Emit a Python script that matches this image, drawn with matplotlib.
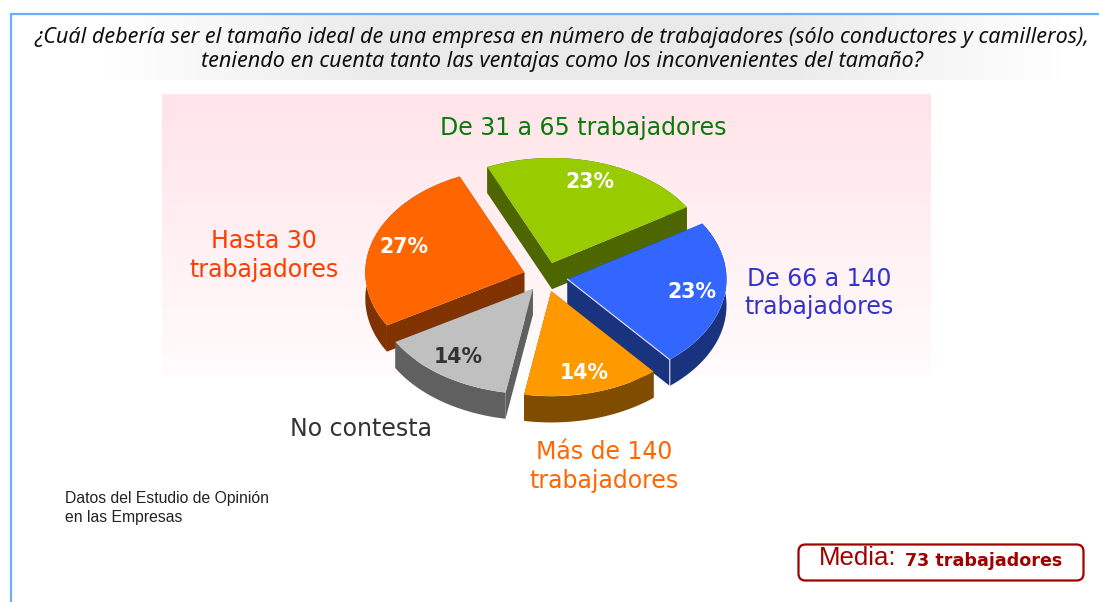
import numpy as np
import matplotlib
matplotlib.use("Agg")
import matplotlib.pyplot as plt
from matplotlib.patches import FancyBboxPatch, Polygon

W, H = 1099, 602

# slices in drawing order of the pie, clockwise from the top left cut
categories = ["De 31 a 65 trabajadores", "De 66 a 140\ntrabajadores", "Más de 140\ntrabajadores",
              "No contesta", "Hasta 30\ntrabajadores"]
values = [23, 23, 14, 14, 27]
top_colors = ["#99cc00", "#3366ff", "#ff9900", "#c0c0c0", "#ff6600"]
wall_colors = ["#4d6600", "#19337f", "#804c00", "#606060", "#803300"]
label_colors = ["#0a7a0a", "#3333cc", "#ff6600", "#333333", "#ff3c00"]
value_colors = ["white", "white", "white", "#333333", "white"]

title = ("¿Cuál debería ser el tamaño ideal de una empresa en número de trabajadores (sólo conductores y camilleros),\n"
         "teniendo en cuenta tanto las ventajas como los inconvenientes del tamaño?")
source = "Datos del Estudio de Opinión\nen las Empresas"
media_value = 73


def put(x, y, s, **kw):
    kw.setdefault("ha", "center")
    kw.setdefault("va", "center")
    return fig.text(x / W, 1 - y / H, s, zorder=5, **kw)


fig = plt.figure(figsize=(W / 100, H / 100), dpi=100, facecolor="white")

# background layer, pixel coordinates
bg = fig.add_axes([0, 0, 1, 1], zorder=0)
bg.set_xlim(0, W)
bg.set_ylim(H, 0)
bg.axis("off")

pink = np.ones((64, 1, 4))
pink[:, 0, :3] = matplotlib.colors.to_rgb("#ffe4e9")
pink[:, 0, 3] = np.linspace(1, 0.14, 64)
bg.imshow(pink, extent=(162, 931, 375, 94), aspect="auto", zorder=1)

band = np.zeros((1, 256, 4))
band[0, :, :3] = 0.92
band[0, :, 3] = np.interp(np.linspace(0, 1, 256), [0, 0.3, 0.7, 1], [0, 1, 1, 0])
bg.imshow(band, extent=(100, 1066, 80, 15), aspect="auto", zorder=1)
bg.set_xlim(0, W)
bg.set_ylim(H, 0)

bg.plot([10.5, 10.5, W], [H, 13.5, 13.5], color="#66b0ff", lw=1.6, zorder=2, solid_joinstyle="miter")
bg.add_patch(FancyBboxPatch((798.5, 544.5), 285, 36, boxstyle="round,pad=0,rounding_size=7",
                            fc="white", ec="#a00000", lw=1.6, zorder=2))

# pie layer: one unit is the ellipse radius, so the axes squash the pie
cx, cy, rx, ry, depth, explode = 545.5, 277, 159, 105, 0.25, 0.14
ax = fig.add_axes([0, 0, 1, 1], zorder=1)
ax.patch.set_alpha(0)
wedges, _ = ax.pie(values, colors=top_colors, startangle=114, counterclock=False,
                   explode=[explode] * len(values), radius=1, center=(0, 0),
                   wedgeprops=dict(linewidth=0))
ax.set_aspect("auto")
ax.set_xlim(-cx / rx, (W - cx) / rx)
ax.set_ylim((cy - H) / ry, cy / ry)
ax.axis("off")

order = [0, 4, 1, 3, 2]  # back slices first
for z, i in enumerate(order):
    wedge = wedges[i]
    ox, oy = wedge.center
    t = np.radians(np.linspace(wedge.theta1, wedge.theta2, 120))
    xs = ox + np.cos(t)
    ys = oy + np.sin(t)
    base = 2 * z + 1
    # radial walls
    for k in [0, -1]:
        ax.add_patch(Polygon([(ox, oy), (xs[k], ys[k]), (xs[k], ys[k] - depth), (ox, oy - depth)],
                             fc=wall_colors[i], ec="none", zorder=base))
    # rim
    rim = np.r_[np.c_[xs, ys], np.c_[xs[::-1], ys[::-1] - depth]]
    ax.add_patch(Polygon(rim, fc=wall_colors[i], ec="none", zorder=base))
    wedge.set_zorder(base + 1)

# thin highlight on the blue slice
blue = wedges[1]
t1 = np.radians(blue.theta1)
ex, ey = blue.center[0] + np.cos(t1), blue.center[1] + np.sin(t1)
ax.plot([blue.center[0], ex, ex], [blue.center[1], ey, ey - depth], color="#dfe6ff", lw=0.8, zorder=20)

# texts
sans = ["DejaVu Sans"]
label_xy = [(583, 127.5), (819, 293), (604, 466.5), (361, 428.5), (264, 255.5)]
value_xy = [(590, 182), (692, 292), (584, 373), (458, 357), (404, 247)]
for lab, col, val, vcol, lxy, vxy in zip(categories, label_colors, values, value_colors, label_xy, value_xy):
    put(lxy[0], lxy[1], lab, color=col, fontsize=17, family=sans, linespacing=1.23)
    put(vxy[0], vxy[1], f"{val}%", color=vcol, fontsize=14.8, family=sans, fontweight="bold")

put(561.5, 49.5, title, color="#111111", fontsize=15.55, family=["Noto Sans", "DejaVu Sans"], style="italic",
    linespacing=1.2)
put(65, 508, source, ha="left", color="#222222", fontsize=11.35, family=["Liberation Sans"], linespacing=1.3)
put(819, 558, "Media:", ha="left", color="#a00000", fontsize=18.5, family=["Liberation Sans"])
put(905, 561, f"{media_value} trabajadores", ha="left", color="#a00000", fontsize=12.6,
    family=sans, fontweight="bold")

fig.savefig("out.png", dpi=100)
